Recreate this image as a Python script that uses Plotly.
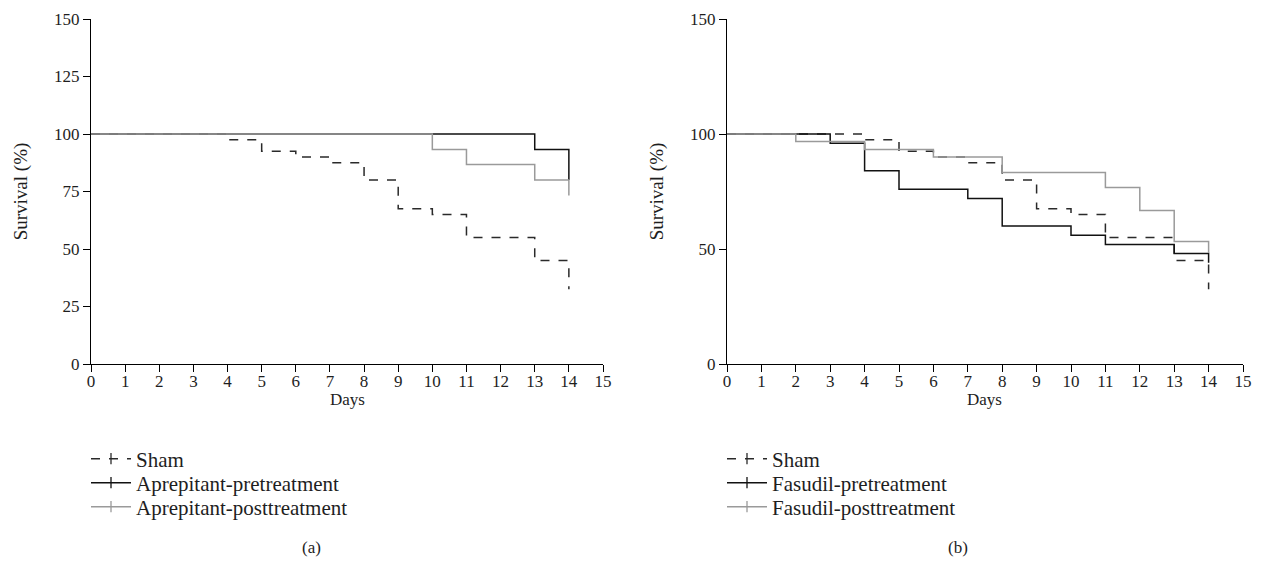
import plotly.graph_objects as go

# ---- data ----
days_sham = [0, 4, 5, 6, 7, 8, 9, 10, 11, 13, 14]
surv_sham = [100, 97.5, 92.5, 90, 87.5, 80, 67.5, 65, 55, 45, 32.5]

days_apre_pre = [0, 13, 14]
surv_apre_pre = [100, 93.3, 80]

days_apre_post = [0, 10, 11, 13, 14]
surv_apre_post = [100, 93.3, 86.7, 80, 73.3]

days_fas_pre = [0, 3, 4, 5, 7, 8, 10, 11, 13, 14]
surv_fas_pre = [100, 96, 84, 76, 72, 60, 56, 52, 48, 44]

days_fas_post = [0, 2, 4, 6, 8, 11, 12, 13, 14]
surv_fas_post = [100, 96.7, 93.3, 90, 83.3, 76.7, 66.7, 53.3, 48.3]

x_ticks = list(range(0, 16))
y_ticks_a = [0, 25, 50, 75, 100, 125, 150]
y_ticks_b = [0, 50, 100, 150]

names_a = ["Sham", "Aprepitant-pretreatment", "Aprepitant-posttreatment"]
names_b = ["Sham", "Fasudil-pretreatment", "Fasudil-posttreatment"]
captions = ["(a)", "(b)"]
x_title = "Days"
y_title = "Survival (%)"

FONT = "Liberation Serif"
TXT = "#1e1e1e"
C_DASH = "#2a2a2a"
C_BLACK = "#111111"
C_GRAY = "#9a9a9a"
colors = [C_DASH, C_BLACK, C_GRAY]
dashes = ["dash", "solid", "solid"]

W, H = 1265, 567

fig = go.Figure()


def add_curve(x, y, color, dash, xa, ya):
    fig.add_trace(go.Scatter(x=x, y=y, mode="lines",
                             line=dict(color=color, width=1.5, dash=dash, shape="hv"),
                             xaxis=xa, yaxis=ya, showlegend=False, hoverinfo="skip"))


# panel a
add_curve(days_sham, surv_sham, C_DASH, "dash", "x", "y")
add_curve(days_apre_pre, surv_apre_pre, C_BLACK, "solid", "x", "y")
add_curve(days_apre_post, surv_apre_post, C_GRAY, "solid", "x", "y")
# panel b
add_curve(days_sham, surv_sham, C_DASH, "dash", "x2", "y2")
add_curve(days_fas_pre, surv_fas_pre, C_BLACK, "solid", "x2", "y2")
add_curve(days_fas_post, surv_fas_post, C_GRAY, "solid", "x2", "y2")

# one legend per entry so that the row spacing can follow the reference
legend_rows_y = [459, 483, 507]
legend_layouts = {}
k = 1
for names, lx in [(names_a, 86), (names_b, 722)]:
    for i, nm in enumerate(names):
        lname = "legend" if k == 1 else f"legend{k}"
        fig.add_trace(go.Scatter(x=[None], y=[None], mode="lines+markers", name=nm,
                                 line=dict(color=colors[i], width=1.5, dash=dashes[i]),
                                 marker=dict(symbol="line-ns", size=8,
                                             line=dict(color=colors[i], width=1.3), color=colors[i]),
                                 legend=lname, xaxis="x", yaxis="y"))
        legend_layouts[lname] = dict(x=lx / W, y=1 - legend_rows_y[i] / H, xanchor="left",
                                     yanchor="middle", bgcolor="rgba(0,0,0,0)",
                                     font=dict(family=FONT, size=21, color=TXT), itemwidth=40)
        k += 1

ydom = [1 - 364 / H, 1 - 19 / H]

axis_common = dict(showline=True, linecolor="black", linewidth=1.2, ticks="outside", ticklen=7,
                   tickcolor="black", tickwidth=1.2, showgrid=False, zeroline=False,
                   automargin=False, tickfont=dict(family=FONT, size=17, color=TXT))
ytitle = dict(text=y_title, font=dict(family=FONT, size=19, color=TXT), standoff=21)


def ann(text, xpx, ypx, size=17):
    return dict(text=text, x=xpx / W, y=1 - ypx / H, xref="paper", yref="paper", showarrow=False,
                xanchor="center", yanchor="middle", font=dict(family=FONT, size=size, color=TXT))


fig.update_layout(
    template="none",
    width=W, height=H, margin=dict(l=0, r=0, t=0, b=0, pad=0, autoexpand=False),
    paper_bgcolor="white", plot_bgcolor="white",
    font=dict(family=FONT, size=17, color=TXT),
    xaxis=dict(domain=[91 / W, 603 / W], range=[0, 15], tickvals=x_ticks, anchor="y",
               ticklabelstandoff=-6, **axis_common),
    yaxis=dict(domain=ydom, range=[0, 150], tickvals=y_ticks_a, anchor="x", title=ytitle, **axis_common),
    xaxis2=dict(domain=[727 / W, 1243 / W], range=[0, 15], tickvals=x_ticks, anchor="y2",
                ticklabelstandoff=-6, **axis_common),
    yaxis2=dict(domain=ydom, range=[0, 150], tickvals=y_ticks_b, anchor="x2", title=ytitle, **axis_common),
    annotations=[
        ann(x_title, 347, 399),
        ann(x_title, 985, 399),
        ann(captions[0], 311, 547),
        ann(captions[1], 958, 547),
    ],
    **legend_layouts,
)

fig.write_html("out.html", config={"displayModeBar": False},
               post_script="document.body.style.margin='0px';document.body.style.overflow='hidden';")
